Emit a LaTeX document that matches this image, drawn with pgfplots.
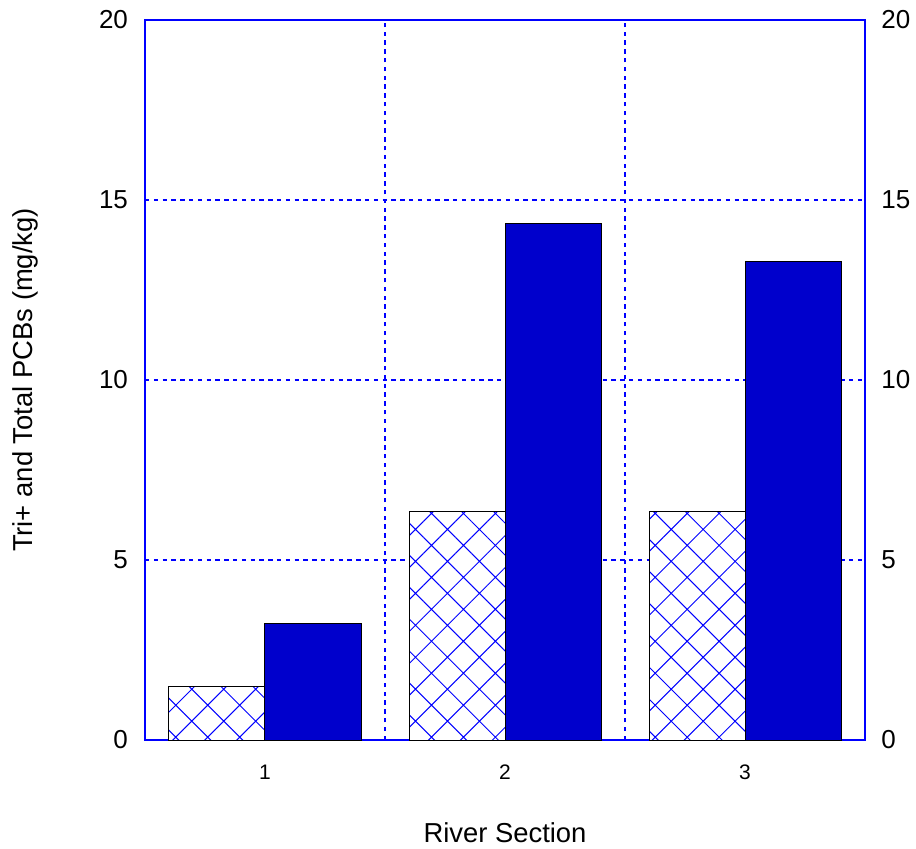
\documentclass[border=0pt]{standalone}
\usepackage{pgfplots}
\pgfplotsset{compat=1.18}
\usepackage{fontspec}
\setmainfont{Liberation Sans}
\usetikzlibrary{patterns.meta}
\definecolor{barblue}{RGB}{0,0,204}
\definecolor{gridblue}{RGB}{0,0,255}
\begin{document}
\begin{tikzpicture}
\pgfplotsset{
  common/.style={
    scale only axis, width=360bp, height=360bp,
    xmin=0.5, xmax=3.5, ymin=0, ymax=20,
    ytick={0,5,10,15,20},
    major tick length=0pt, minor tick length=0pt,
    /pgf/number format/assume math mode=true,
    yticklabel style={font=\fontsize{13bp}{15bp}\selectfont},
  }
}
\begin{axis}[common, name=ax,
  axis line style={blue, line width=0.6bp},
  xtick={1,2,3},
  xticklabel style={font=\fontsize{10.5bp}{12bp}\selectfont, yshift=-9bp},
  yticklabel style={xshift=-5bp},
  xlabel={River Section},
  ylabel={Tri+ and Total PCBs (mg/kg)},
  label style={font=\fontsize{13.7bp}{15bp}\selectfont},
  xlabel style={at={(axis description cs:0.5,0)}, anchor=base, yshift=-51bp},
  ylabel style={at={(axis description cs:-0.1667,0.5)}, anchor=center},
  ybar, bar width=0.4,
]
\draw[draw=gridblue, line width=0.7bp, dash pattern=on 2.2bp off 2.2bp]
  (axis cs:1.5,0) -- (axis cs:1.5,20)
  (axis cs:2.5,0) -- (axis cs:2.5,20)
  (axis cs:0.5,5) -- (axis cs:3.5,5)
  (axis cs:0.5,10) -- (axis cs:3.5,10)
  (axis cs:0.5,15) -- (axis cs:3.5,15);
\addplot[ybar, bar shift=-0.2, fill=white, draw=black, line width=0.5bp,
  postaction={pattern={Hatch[angle=45,distance=11.3bp,line width=0.5bp]}, pattern color=blue}]
  coordinates {(1,1.5) (2,6.35) (3,6.35)};
\addplot[ybar, bar shift=0.2, fill=barblue, draw=black, line width=0.5bp]
  coordinates {(1,3.25) (2,14.35) (3,13.3)};
\end{axis}
\begin{axis}[common,
  axis x line=none, axis y line*=right,
  axis line style={blue, line width=0.6bp},
  yticklabel style={xshift=4.7bp},
  xtick=\empty,
]
\addplot[draw=none] coordinates {(1,0)};
\end{axis}
\pgfresetboundingbox
\path (ax.south west) ++(-72.5bp,-54.5bp) rectangle +(458bp,424.5bp);
\end{tikzpicture}
\end{document}
